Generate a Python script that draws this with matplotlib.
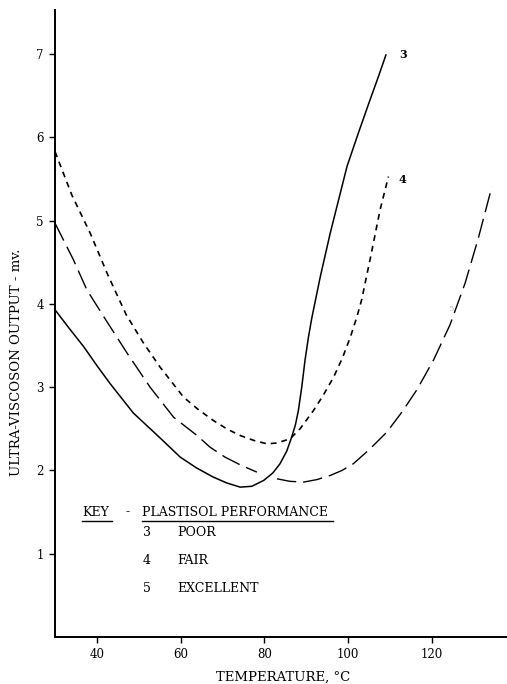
import matplotlib
matplotlib.use('Agg')
import matplotlib.pyplot as plt
from matplotlib.lines import Line2D

plt.rcParams['font.family'] = ['DejaVu Serif']

# Curve 3 - poor (solid)
x3 = [30, 33.5, 36.8, 40.0, 43.2, 48.7, 55.1, 59.9, 63.8, 67.8, 71.0, 74.2,
      77.0, 79.8, 82.0, 83.7, 85.3, 86.5, 87.4, 88.1, 88.9, 89.7, 90.5, 91.3,
      93.3, 95.7, 97.7, 99.7, 102.4, 105.2, 107.2, 109.0]
y3 = [3.93, 3.70, 3.49, 3.26, 3.04, 2.69, 2.39, 2.16, 2.03, 1.92, 1.85, 1.80,
      1.81, 1.88, 1.97, 2.08, 2.23, 2.40, 2.55, 2.72, 3.00, 3.33, 3.60, 3.83,
      4.32, 4.85, 5.25, 5.65, 6.05, 6.45, 6.73, 6.99]

# Curve 4 - fair (short dashes)
x4 = [30, 34.0, 38.4, 42.6, 47.0, 51.0, 55.1, 60.7, 64.0, 67.8, 71.0, 74.2,
      77.5, 80.6, 83.0, 86.1, 88.5, 91.7, 94.0, 96.5, 98.6, 100.5, 102.1,
      103.2, 105.2, 107.6, 109.6]
y4 = [5.83, 5.31, 4.85, 4.35, 3.87, 3.54, 3.24, 2.88, 2.74, 2.60, 2.50, 2.42,
      2.36, 2.32, 2.33, 2.38, 2.50, 2.72, 2.90, 3.12, 3.35, 3.60, 3.85,
      4.05, 4.53, 5.13, 5.53]

# Curve 5 - excellent (long dashes), drawn in two pieces as in the original
x5a = [30, 34.4, 37.6, 41.6, 47.2, 52.7, 58.3, 63.9, 67.0, 70.6, 74.5, 78.2]
y5a = [4.97, 4.53, 4.17, 3.85, 3.41, 3.00, 2.64, 2.42, 2.28, 2.16, 2.06, 1.98]
x5b = [83.0, 86.0, 89.3, 92.5, 95.7, 98.5, 101.2, 105.0, 109.2, 112.8, 116.4,
       120.4, 124.3, 127.9, 131.0, 134.3]
y5b = [1.90, 1.87, 1.86, 1.89, 1.94, 2.00, 2.08, 2.25, 2.46, 2.70, 2.97,
       3.33, 3.75, 4.25, 4.78, 5.41]

xticks = [40, 60, 80, 100, 120]
yticks = [1, 2, 3, 4, 5, 6, 7]
key_nums = ['3', '4', '5']
key_names = ['POOR', 'FAIR', 'EXCELLENT']

W, H = 507, 684
fig = plt.figure(figsize=(W / 100, H / 100), dpi=100)
ax = fig.add_axes([55 / W, 47 / H, 1 - 55 / W, 627 / H])

ax.plot(x3, y3, color='black', lw=1.1)
ax.plot(x4, y4, color='black', lw=1.2, dashes=(3.5, 3))
ax.plot(x5a, y5a, color='black', lw=1.0, dashes=(14, 5))
ax.plot(x5b, y5b, color='black', lw=1.0, dashes=(14, 5))

ax.set_xlim(30, 137.9)
ax.set_ylim(0, 7.53)
ax.set_xticks(xticks)
ax.set_yticks(yticks)
ax.tick_params(labelsize=8.5, length=4, width=1, pad=4)
for s in ['top', 'right']:
    ax.spines[s].set_visible(False)
for s in ['left', 'bottom']:
    ax.spines[s].set_linewidth(1.4)

# curve labels
ax.text(113, 6.99, '3', fontsize=8, fontweight='bold', va='center', ha='center')
ax.text(113, 5.49, '4', fontsize=8, fontweight='bold', va='center', ha='center')
ax.text(124.6, 3.94, '5', fontsize=6, color='#bbbbbb', va='center', ha='center')


def fx(px):
    return px / W


def fy(py):
    return 1 - py / H


fig.text(fx(17), fy(362), 'ULTRA-VISCOSON OUTPUT - mv.', rotation=90,
         fontsize=9.5, ha='center', va='center')
fig.text(fx(283), fy(677), 'TEMPERATURE, \u00b0C', fontsize=9.5,
         ha='center', va='center')

# key block
fig.text(fx(82), fy(512), 'KEY', fontsize=9, va='center')
fig.text(fx(128), fy(512), '-', fontsize=9, va='center', ha='center')
fig.text(fx(142), fy(512), 'PLASTISOL PERFORMANCE', fontsize=9, va='center')
fig.add_artist(Line2D([fx(82), fx(112)], [fy(521), fy(521)],
                      transform=fig.transFigure, color='black', lw=1))
fig.add_artist(Line2D([fx(142), fx(333)], [fy(521), fy(521)],
                      transform=fig.transFigure, color='black', lw=1))
for i, (n, name) in enumerate(zip(key_nums, key_names)):
    yy = 533 + i * 27.5
    fig.text(fx(147), fy(yy), n, fontsize=9, va='center', ha='center')
    fig.text(fx(177), fy(yy), name, fontsize=9, va='center')

fig.savefig('out.png', dpi=100)
